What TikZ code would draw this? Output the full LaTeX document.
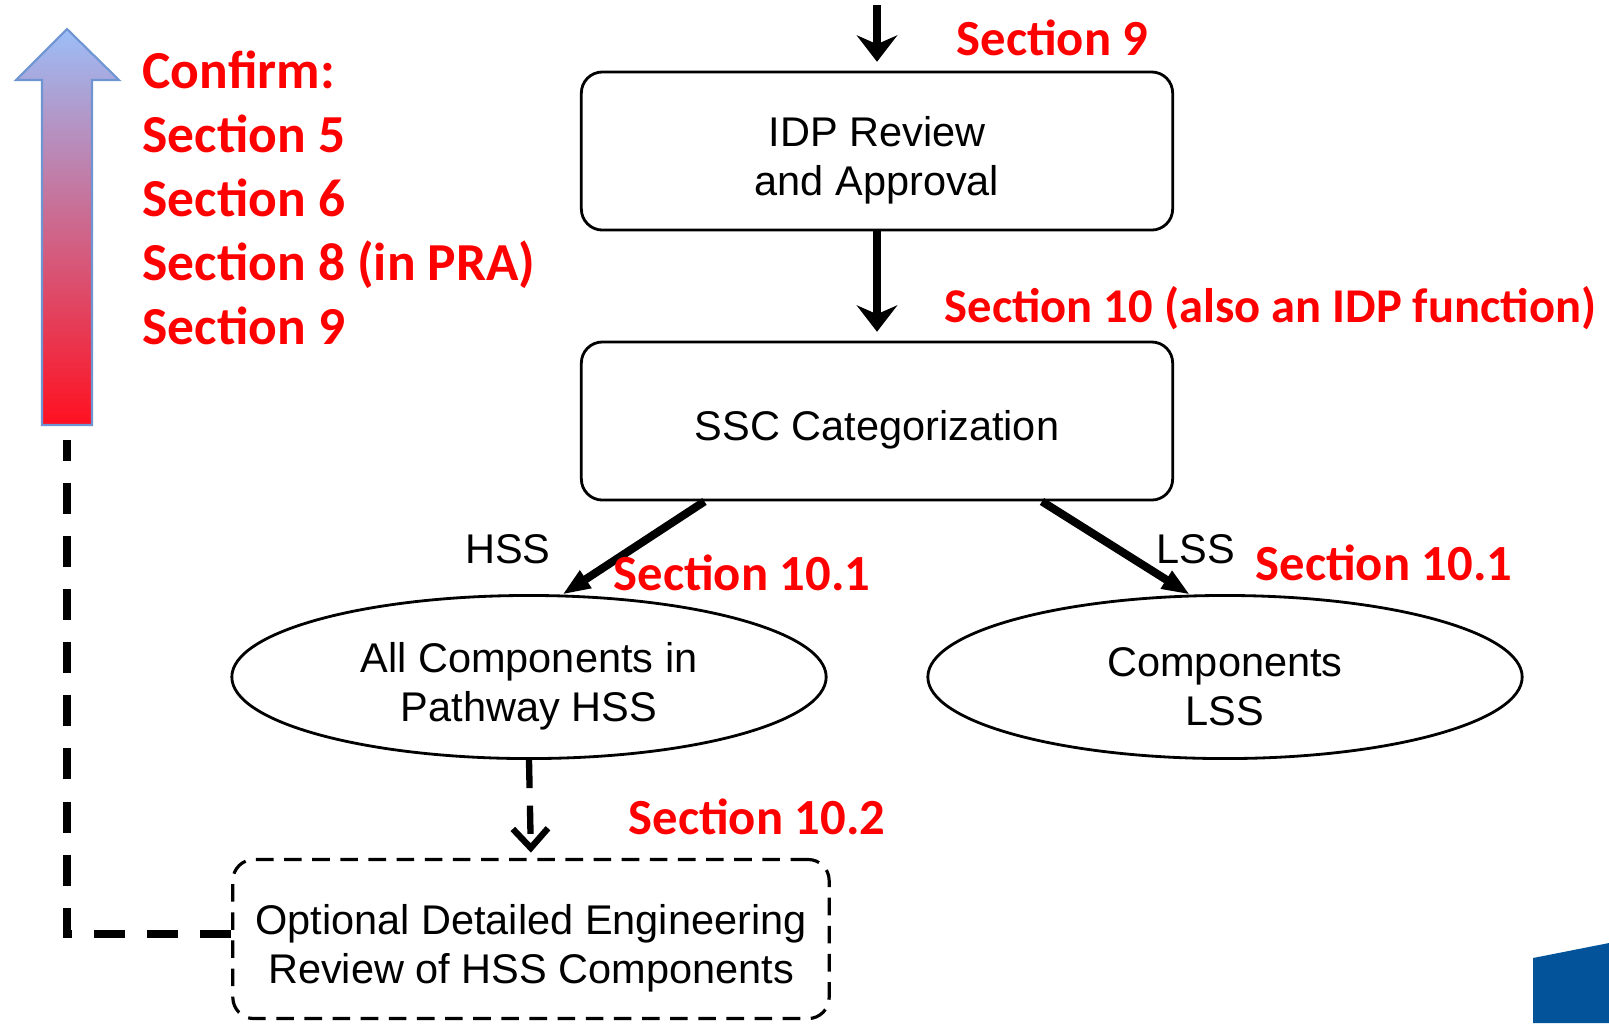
\documentclass[tikz,border=0pt]{standalone}
\usepackage{fontspec}
\setmainfont{Liberation Sans}
\newfontfamily\secfont{Carlito}
\usetikzlibrary{arrows.meta,shapes.geometric}
\definecolor{SecRed}{HTML}{FF0000}
\definecolor{ArrowTop}{HTML}{9CBEF8}
\definecolor{ArrowMid}{HTML}{C69CCA}
\definecolor{ArrowBottom}{HTML}{FF1020}
\definecolor{ArrowEdge}{HTML}{6F94D2}
\definecolor{CornerBlue}{HTML}{03539A}
\newcommand{\topgap}{\rule{0pt}{13.8pt}}

\begin{document}
\begin{tikzpicture}[x=0.01cm, y=-0.01cm,
    stagebox/.style={rectangle, draw=black, line width=0.8pt, rounded corners=6pt, minimum width=5.91cm, minimum height=1.58cm, align=center, font=\fontsize{11.8}{13.7}\selectfont},
    optbox/.style={stagebox, dashed, dash pattern=on 5pt off 3pt, line width=0.9pt, minimum width=5.96cm, minimum height=1.59cm},
    groupoval/.style={ellipse, draw=black, line width=0.8pt, inner sep=0pt, minimum width=5.94cm, minimum height=1.63cm, align=center, font=\fontsize{11.8}{13.7}\selectfont},
    branchlabel/.style={font=\fontsize{11.8}{13.7}\selectfont, inner sep=0pt},
    secnote/.style={font=\secfont\bfseries\fontsize{14.4}{17}\selectfont, text=SecRed, anchor=west, inner sep=0pt},
    flowarrow/.style={line width=2.1pt, -{Stealth[length=7.5pt,width=11.5pt,inset=2.5pt]}, shorten >=2.5pt},
    splitarrow/.style={line width=2.3pt, -{Triangle[length=8pt,width=5.5pt]}},
    optarrow/.style={line width=1.8pt, dash pattern=on 8pt off 5pt, -{Straight Barb[length=5.5pt,width=10pt]}, shorten >=1.5pt},
    feedback/.style={line width=2.2pt, dash pattern=on 8.8pt off 6.3pt}
]

\useasboundingbox (0,0) rectangle (1609,1023);

% confirm arrow
\shade[top color=ArrowTop, middle color=ArrowMid, bottom color=ArrowBottom, draw=ArrowEdge, line width=0.6pt]
  (67,29) -- (119,80) -- (92,80) -- (92,425) -- (42,425) -- (42,80) -- (16,80) -- cycle;
\coordinate (arrowfoot) at (67,440);

\node[secnote, align=left, anchor=north west, font=\secfont\bfseries\fontsize{15.2}{18.2}\selectfont] (confirm) at (142,50)
  {Confirm:\\Section 5\\Section 6\\Section 8 (in PRA)\\Section 9};

% flow
\coordinate (topin) at (877,5);
\node[stagebox] (idp) at (877,151) {\topgap IDP Review\\and Approval};
\node[stagebox] (ssc) at (877,421) {\topgap SSC Categorization};
\node[groupoval] (hss) at (529,677) {\topgap All Components in\\Pathway HSS};
\node[groupoval] (lss) at (1225,677) {\topgap Components\\LSS};
\node[optbox] (review) at (531,939) {\topgap Optional Detailed Engineering\\Review of HSS Components};

\draw[flowarrow] (topin) -- (idp.north);
\draw[flowarrow] (idp.south) -- (ssc.north);
\draw[splitarrow] (ssc.205.6) -- (hss.68);
\draw[splitarrow] (ssc.-26.7) -- (lss.113);
\draw[optarrow] (hss.south) -- (review.north);
\draw[feedback] (review.179) -| (arrowfoot);

\node[branchlabel] (hsslabel) at (508,549) {HSS};
\node[branchlabel] (lsslabel) at (1196,549) {LSS};

\node[secnote] (sec9) at (956,38) {Section 9};
\node[secnote, font=\secfont\bfseries\fontsize{13.8}{17}\selectfont] (sec10) at (944,308) {Section 10 (also an IDP function)};
\node[secnote] (sec101a) at (613,573) {Section 10.1};
\node[secnote] (sec101b) at (1255,563) {Section 10.1};
\node[secnote] (sec102) at (628,817) {Section 10.2};

\fill[CornerBlue] (1533,958) -- (1609,943) -- (1609,1023) -- (1533,1023) -- cycle;

\end{tikzpicture}
\end{document}
